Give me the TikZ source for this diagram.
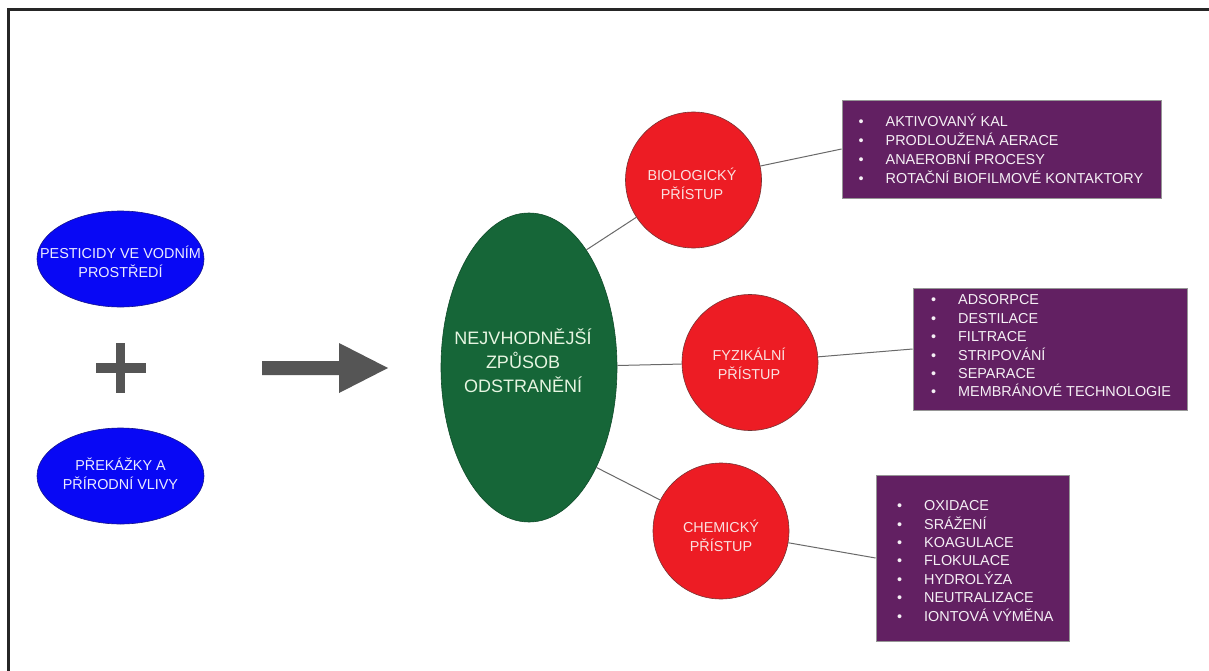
\documentclass[tikz,border=0pt]{standalone}
\usepackage{fontspec}
\setmainfont{Liberation Sans}
\usetikzlibrary{shapes.geometric}
\definecolor{blueFill}{RGB}{8,8,245}
\definecolor{blueDraw}{RGB}{20,20,140}
\definecolor{blueTxt}{RGB}{235,235,255}
\definecolor{greenFill}{RGB}{22,102,56}
\definecolor{greenTxt}{RGB}{230,245,225}
\definecolor{redFill}{RGB}{237,28,36}
\definecolor{redDraw}{RGB}{120,50,50}
\definecolor{redTxt}{RGB}{250,225,225}
\definecolor{purpleFill}{RGB}{98,32,98}
\definecolor{purpleDraw}{RGB}{150,150,150}
\definecolor{boxTxt}{RGB}{245,240,245}
\definecolor{shapeGray}{RGB}{85,85,85}
\definecolor{connGray}{RGB}{105,105,105}
\newcommand\blt{\makebox[27pt][l]{\textbullet}}
\begin{document}
\begin{tikzpicture}[x=1pt,y=-1pt,
  conn/.style={draw=connGray, line width=1pt},
  blueell/.style={ellipse, fill=blueFill, draw=blueDraw, line width=0.6pt,
    minimum width=167pt, minimum height=96pt, inner sep=0pt},
  bluetxt/.style={text=blueTxt, align=center, inner sep=0pt,
    font=\fontsize{14.4}{19.5}\selectfont},
  greenell/.style={ellipse, fill=greenFill, draw=greenFill!75!black, line width=0.6pt,
    minimum width=176pt, minimum height=309pt, inner sep=0pt},
  greentxt/.style={text=greenTxt, align=center, inner sep=0pt,
    font=\fontsize{18}{24}\selectfont},
  redcirc/.style={circle, fill=redFill, draw=redDraw, line width=0.6pt,
    minimum size=136pt, inner sep=0pt},
  redtxt/.style={text=redTxt, align=center, inner sep=0pt,
    font=\fontsize{14.4}{19}\selectfont},
  pbox/.style={rectangle, fill=purpleFill, draw=purpleDraw, line width=0.8pt, inner sep=0pt},
  listtxt/.style={text=boxTxt, align=left, inner sep=0pt, anchor=west}
]
\useasboundingbox (0,0) rectangle (1209,671);
\fill[white] (0,0) rectangle (1209,671);
\draw[line width=2.2pt, black!85] (8.5,672) -- (8.5,9.5) -- (1210,9.5);

% left side
\node[blueell] (pest) at (120.5,259) {};
\node[bluetxt] (pestT) at (120.5,262) {PESTICIDY VE VODNÍM\\PROSTŘEDÍ};
\node[blueell] (prek) at (120.5,476) {};
\node[bluetxt] (prekT) at (120.5,474) {PŘEKÁŽKY A\\PŘÍRODNÍ VLIVY};

\fill[shapeGray] (96,362.5) rectangle (146,372.5);
\fill[shapeGray] (116,343) rectangle (125,393);
\fill[shapeGray] (262,361) -- (339,361) -- (339,343) -- (388,368) -- (339,393) -- (339,375) -- (262,375) -- cycle;

% centre
\node[greenell] (green) at (529,367.5) {};
\node[greentxt] (greenT) at (523,361) {NEJVHODNĚJŠÍ\\ZPŮSOB\\ODSTRANĚNÍ};

% circles
\node[redcirc] (bio) at (693.5,180) {};
\node[redtxt] (bioT) at (692,183.5) {BIOLOGICKÝ\\PŘÍSTUP};
\node[redcirc] (fyz) at (750,362.5) {};
\node[redtxt] (fyzT) at (749,363.5) {FYZIKÁLNÍ\\PŘÍSTUP};
\node[redcirc] (chem) at (721,531) {};
\node[redtxt] (chemT) at (721,536) {CHEMICKÝ\\PŘÍSTUP};

% boxes
\node[pbox, minimum width=319pt, minimum height=98pt] (box1) at (1001.5,149) {};
\node[listtxt, font=\fontsize{14.4}{19.2}\selectfont] (list1) at (858.5,149)
  {\blt AKTIVOVANÝ KAL\\\blt PRODLOUŽENÁ AERACE\\\blt ANAEROBNÍ PROCESY\\\blt ROTAČNÍ BIOFILMOVÉ KONTAKTORY};
\node[pbox, minimum width=274pt, minimum height=122pt] (box2) at (1050,349) {};
\node[listtxt, font=\fontsize{14.4}{18.4}\selectfont] (list2) at (931,346)
  {\blt ADSORPCE\\\blt DESTILACE\\\blt FILTRACE\\\blt STRIPOVÁNÍ\\\blt SEPARACE\\\blt MEMBRÁNOVÉ TECHNOLOGIE};
\node[pbox, minimum width=193pt, minimum height=166pt] (box3) at (972.5,558) {};
\node[listtxt, font=\fontsize{14.4}{18.4}\selectfont] (list3) at (897,561)
  {\blt OXIDACE\\\blt SRÁŽENÍ\\\blt KOAGULACE\\\blt FLOKULACE\\\blt HYDROLÝZA\\\blt NEUTRALIZACE\\\blt IONTOVÁ VÝMĚNA};

% connectors
\draw[conn] (bio) -- (green.64);
\draw[conn] (green) -- (fyz);
\draw[conn] (chem) -- (green.-56);
\draw[conn] (bio) -- (box1.west);
\draw[conn] (fyz) -- (box2.west);
\draw[conn] (chem) -- (box3.west);
\end{tikzpicture}
\end{document}
